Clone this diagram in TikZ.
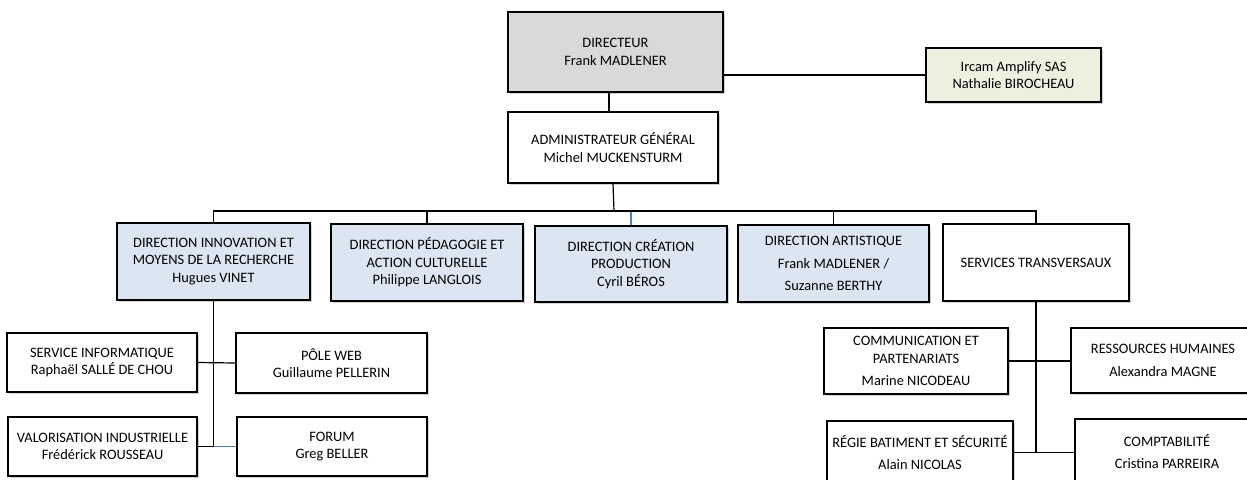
\documentclass[tikz,border=0pt]{standalone}
\usepackage{fontspec}
\setmainfont{Carlito}
\usetikzlibrary{shadows}
\definecolor{dirgray}{HTML}{D9D9D9}
\definecolor{subgreen}{HTML}{EBF1DE}
\definecolor{deptblue}{HTML}{DCE6F2}
\definecolor{linkblue}{HTML}{4F81BD}

\begin{document}
\begin{tikzpicture}[
  x=1pt, y=-1pt,
  font=\fontsize{14.4}{17.5}\selectfont,
  line/.style={draw=black, line width=1.2pt},
  bline/.style={draw=linkblue, line width=1.2pt},
  box/.style={draw=black, line width=1.3pt, fill=white, align=center, inner sep=0pt,
    drop shadow={shadow xshift=1.5pt, shadow yshift=-1.5pt, fill=black!40, opacity=0.45}},
  head/.style={box, fill=dirgray},
  sub/.style={box, fill=subgreen},
  dept/.style={box, fill=deptblue}
]
\useasboundingbox (0,0) rectangle (1247,479);
\clip (0,0) rectangle (1247,479);

\node[head, minimum width=215pt, minimum height=80pt] (dir) at (615.5,52) {DIRECTEUR\\Frank MADLENER};
\node[sub, minimum width=175pt, minimum height=54pt] (ircam) at (1013.5,75) {Ircam Amplify SAS\\Nathalie BIROCHEAU};
\node[box, minimum width=210pt, minimum height=71pt] (admin) at (613,147.5) {ADMINISTRATEUR GÉNÉRAL\\Michel MUCKENSTURM};

\node[dept, minimum width=193pt, minimum height=77pt] (innov) at (213.5,261.5) {DIRECTION INNOVATION ET\\MOYENS DE LA RECHERCHE\\Hugues VINET};
\node[dept, minimum width=192pt, minimum height=77pt] (peda) at (427,262.5) {DIRECTION PÉDAGOGIE ET\\ACTION CULTURELLE\\Philippe LANGLOIS};
\node[dept, minimum width=192pt, minimum height=76pt] (crea) at (631,264) {DIRECTION CRÉATION\\PRODUCTION\\Cyril BÉROS};
\node[dept, minimum width=191pt, minimum height=77pt] (arti) at (833.5,263.5) {DIRECTION ARTISTIQUE\\[5pt]Frank MADLENER /\\[5pt]Suzanne BERTHY};
\node[box, minimum width=186pt, minimum height=77pt] (serv) at (1036,262.5) {SERVICES TRANSVERSAUX};

\node[box, minimum width=190pt, minimum height=59pt] (info) at (102,362.5) {SERVICE INFORMATIQUE\\Raphaël SALLÉ DE CHOU};
\node[box, minimum width=191pt, minimum height=60pt] (web) at (331.5,363) {PÔLE WEB\\Guillaume PELLERIN};
\node[box, minimum width=189pt, minimum height=59pt] (valo) at (102.5,446.5) {VALORISATION INDUSTRIELLE\\Frédérick ROUSSEAU};
\node[box, minimum width=190pt, minimum height=59pt] (forum) at (332,446.5) {FORUM\\Greg BELLER};

\node[box, minimum width=184pt, minimum height=66pt] (comm) at (916,361) {COMMUNICATION ET\\PARTENARIATS\\[5pt]Marine NICODEAU};
\node[box, minimum width=184pt, minimum height=65pt] (rh) at (1163,360.5) {RESSOURCES HUMAINES\\[5pt]Alexandra MAGNE};
\node[box, minimum width=186pt, minimum height=63pt] (regie) at (920,452.5) {RÉGIE BATIMENT ET SÉCURITÉ\\[5pt]Alain NICOLAS};
\node[box, minimum width=184pt, minimum height=65pt] (compta) at (1167,451.5) {COMPTABILITÉ\\[5pt]Cristina PARREIRA};

\coordinate (bus) at (614,211);
\coordinate (innovend) at (innov.south |- valo.east);
\coordinate (servend) at (serv.south |- regie.east);

\draw[line] (dir.east |- ircam.west) -- (ircam.west);
\draw[line] (admin.north -| 609,0) -- (609,92);
\draw[line] (admin.south) -- (bus);
\draw[line] (bus) -| (innov.north);
\draw[line] (bus) -| (peda.north);
\draw[bline] (bus) -| (crea.north);
\draw[line] (bus) -| (arti.north);
\draw[line] (bus) -| (serv.north);

\draw[line] (innov.south) -- (innovend);
\draw[line] (info.east) -- (web.west);
\draw[line] (valo.east) -- (innovend);
\draw[bline] (innovend) -- (forum.west |- innovend);

\draw[line] (serv.south) -- (servend);
\draw[line] (comm.east) -- (rh.west |- comm.east);
\draw[line] (regie.east) -- (compta.west |- regie.east);
\end{tikzpicture}
\end{document}
